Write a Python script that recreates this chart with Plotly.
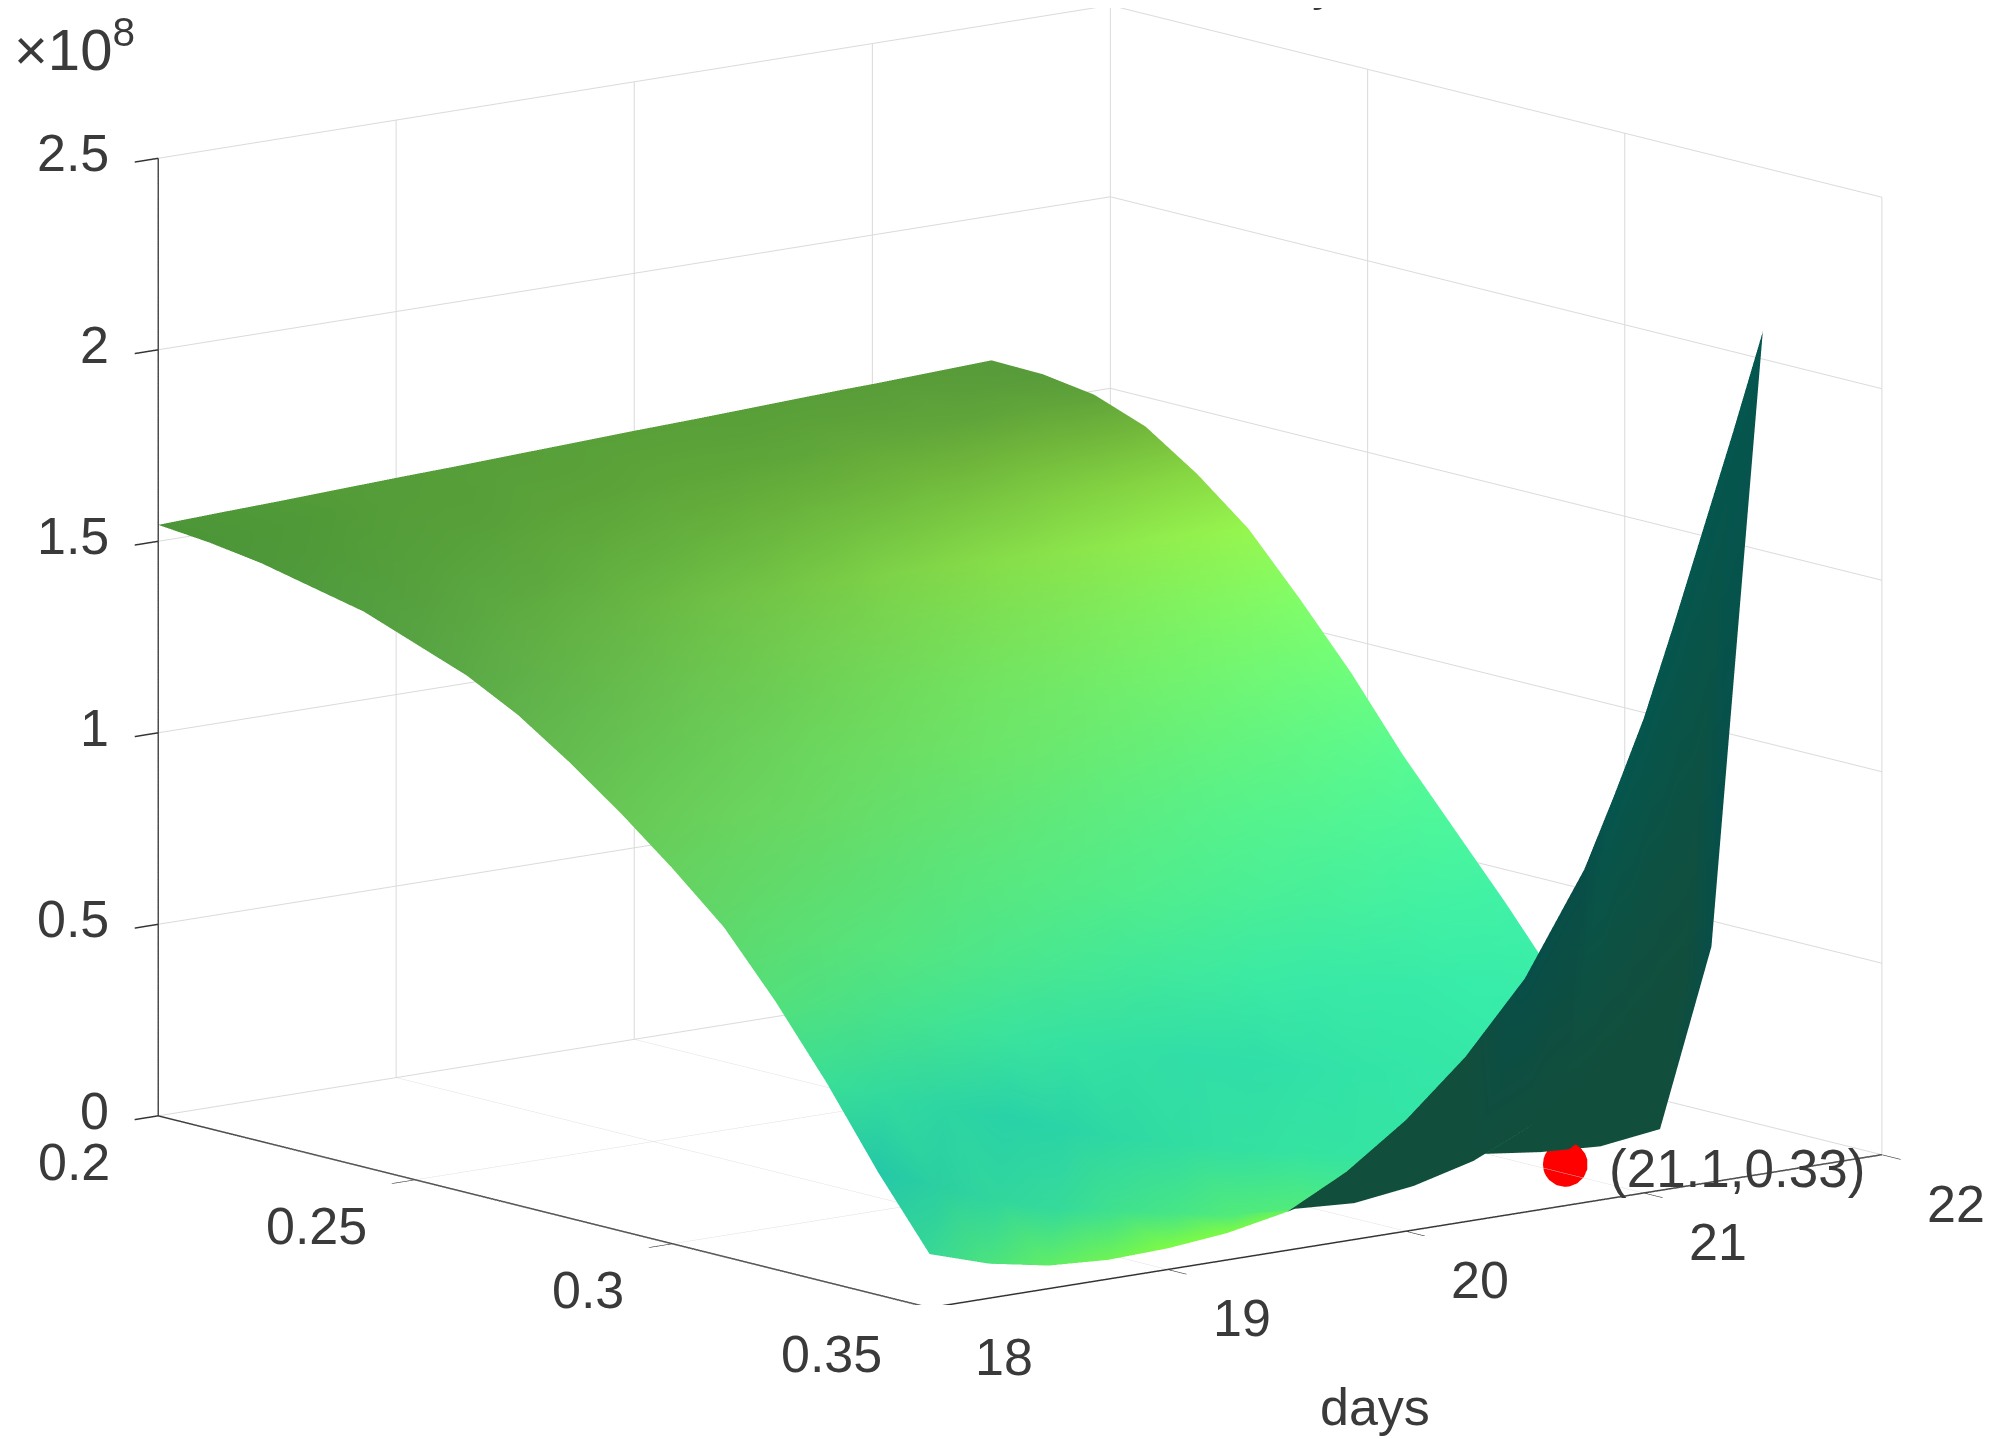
import plotly.graph_objects as go

days = [18.0,18.25,18.5,18.75,19.0,19.25,19.5,19.75,20.0,20.25,20.5,20.75,20.875,21.0,21.125,21.25,21.375,21.5]
rates = [0.20,0.21,0.22,0.23,0.24,0.25,0.26,0.27,0.28,0.29,0.30,0.31,0.32,0.33,0.34,0.35]
# values in units of 1e8, one row per rate, one column per day
z_rows = [
 [1.543,1.549,1.554,1.560,1.566,1.571,1.577,1.583,1.589,1.594,1.600,1.606,1.609,1.611,1.614,1.617,1.620,1.623],
 [1.53,1.54,1.55,1.55,1.56,1.56,1.57,1.57,1.58,1.59,1.59,1.60,1.60,1.60,1.605,1.61,1.615,1.62],
 [1.51,1.52,1.52,1.53,1.54,1.54,1.55,1.55,1.56,1.57,1.57,1.58,1.585,1.59,1.59,1.59,1.595,1.60],
 [1.48,1.49,1.49,1.50,1.50,1.51,1.51,1.52,1.52,1.53,1.53,1.54,1.54,1.54,1.545,1.55,1.55,1.55],
 [1.45,1.45,1.45,1.46,1.46,1.46,1.46,1.46,1.46,1.46,1.46,1.46,1.46,1.46,1.46,1.46,1.46,1.46],
 [1.40,1.40,1.40,1.40,1.40,1.39,1.39,1.39,1.38,1.38,1.37,1.37,1.365,1.36,1.36,1.36,1.355,1.35],
 [1.35,1.34,1.34,1.33,1.32,1.31,1.30,1.29,1.28,1.27,1.26,1.25,1.24,1.23,1.225,1.22,1.21,1.20],
 [1.28,1.27,1.26,1.24,1.23,1.21,1.20,1.18,1.16,1.15,1.13,1.11,1.10,1.09,1.075,1.06,1.05,1.04],
 [1.19,1.17,1.15,1.13,1.11,1.09,1.07,1.05,1.03,1.00,0.98,0.96,0.945,0.93,0.915,0.90,0.88,0.86],
 [1.09,1.07,1.04,1.02,0.99,0.96,0.94,0.91,0.88,0.85,0.82,0.80,0.785,0.77,0.755,0.74,0.72,0.70],
 [0.98,0.95,0.92,0.89,0.85,0.82,0.79,0.76,0.72,0.69,0.66,0.63,0.615,0.60,0.585,0.57,0.555,0.54],
 [0.86,0.81,0.77,0.73,0.69,0.65,0.61,0.57,0.54,0.50,0.47,0.44,0.43,0.42,0.405,0.39,0.38,0.37],
 [0.70,0.67,0.61,0.56,0.51,0.46,0.42,0.38,0.34,0.30,0.27,0.24,0.23,0.22,0.21,0.20,0.20,0.20],
 [0.52,0.46,0.40,0.35,0.30,0.25,0.21,0.17,0.14,0.11,0.08,0.06,0.05,0.04,0.035,0.03,0.04,0.05],
 [0.32,0.26,0.20,0.15,0.12,0.09,0.06,0.05,0.04,0.06,0.10,0.17,0.22,0.27,0.33,0.40,0.48,0.56],
 [0.14,0.09,0.06,0.05,0.055,0.07,0.10,0.18,0.29,0.43,0.61,0.87,1.05,1.24,1.47,1.71,1.95,2.20],
]

x_ticks = [18,19,20,21,22]
y_ticks = [0.2,0.25,0.3,0.35]
y_labels = ["0.2","0.25","0.3","0.35"]
z_ticks = [0,0.5e8,1e8,1.5e8,2e8,2.5e8]
z_labels = ["0","0.5","1","1.5","2","2.5"]
eye = [-1.228,-1.528,0.4]
aspect = [1.884,1.899,1.507]

# shade by height, one ramp for the near edge and one for the far edge
near_stops = [0.14,0.33,0.5,0.73,1.05,1.29,1.43,1.54]
near_cols = [(55,215,150),(35,200,168),(55,222,155),(88,225,120),(106,205,88),(96,178,75),(85,160,65),(76,150,56)]
far_stops = [0.05,0.47,0.83,1.165,1.38,1.535,1.62]
far_cols = [(50,235,170),(60,240,170),(85,250,150),(125,255,110),(155,245,75),(120,190,60),(88,155,58)]
# bright strip along the low front edge: (rate row, day column, weight)
glow = {(15,1):.3,(15,2):.6,(15,3):.8,(15,4):1,(15,5):1,(15,6):.8,(15,7):.5,
        (14,4):.15,(14,5):.25,(14,6):.4,(14,7):.4,(14,8):.3,(14,9):.2}

def ramp(v,stops,cols):
    if v <= stops[0]: return cols[0]
    for i in range(1,len(stops)):
        if v <= stops[i]:
            t=(v-stops[i-1])/(stops[i]-stops[i-1])
            return tuple(cols[i-1][c]+t*(cols[i][c]-cols[i-1][c]) for c in range(3))
    return cols[-1]

n_r,n_d=len(rates),len(days)
vx,vy,vz,light,dark=[],[],[],[],[]
for r in range(n_r):
    for d in range(n_d):
        val=z_rows[r][d]
        vx.append(days[d]); vy.append(rates[r]); vz.append(val*1e8)
        t=(days[d]-18)/3.5
        a=ramp(val,near_stops,near_cols); b=ramp(val,far_stops,far_cols)
        col=tuple(a[c]+t*(b[c]-a[c]) for c in range(3))
        w=glow.get((r,d),0)
        col=tuple(col[c]+w*((125,250,70)[c]-col[c]) for c in range(3))
        light.append("rgb(%d,%d,%d)"%col)
        dark.append("rgb(%d,%d,%d)"%((5,86,78) if val>1 else (8,78,72) if val>0.5 else (18,78,60)))

def screen_facing(a,b,c):
    # does the upper side of this triangle face the viewer?
    p=[(vx[q]/4*aspect[0],-vy[q]/0.15*aspect[1],vz[q]/2.5e8*aspect[2]) for q in (a,b,c)]
    e1=[p[1][i]-p[0][i] for i in range(3)]; e2=[p[2][i]-p[0][i] for i in range(3)]
    n=[e1[1]*e2[2]-e1[2]*e2[1],e1[2]*e2[0]-e1[0]*e2[2],e1[0]*e2[1]-e1[1]*e2[0]]
    if n[2]<0: n=[-q for q in n]
    return sum(n[i]*eye[i] for i in range(3))>0

top=([],[],[]); under=([],[],[])
for r in range(n_r-1):
    for d in range(n_d-1):
        a=r*n_d+d; b=a+1; c=a+n_d; e=c+1
        for t in ((a,b,c),(b,e,c)):
            tgt=top if screen_facing(*t) else under
            for s in range(3): tgt[s].append(t[s])

text_col="#3a3a3a"
font=dict(family="Liberation Sans",size=52,color=text_col)
grid="#dadada"
def ax(vals,rng):
    return dict(title=dict(text=""),range=rng,tickvals=vals,showticklabels=False,
                showgrid=True,gridcolor=grid,gridwidth=2,showline=True,linecolor="#333333",linewidth=3,
                ticks="outside",ticklen=30,tickcolor="#333333",tickwidth=3,
                showbackground=False,zeroline=False,showspikes=False)

notes=[]
for v in x_ticks:
    notes.append(dict(x=v,y=0.35,z=0,text=str(v),showarrow=False,font=font,xanchor="center",yanchor="middle",xshift=74,yshift=-49))
for v,t in zip(y_ticks,y_labels):
    notes.append(dict(x=18,y=v,z=0,text=t,showarrow=False,font=font,xanchor="right",yanchor="middle",xshift=-46,yshift=-46))
for v,t in zip(z_ticks,z_labels):
    notes.append(dict(x=18,y=0.2,z=v,text=t,showarrow=False,font=font,xanchor="right",yanchor="middle",xshift=-47,yshift=5))
notes.append(dict(x=20,y=0.35,z=0,text="days",showarrow=False,font=font,xanchor="center",yanchor="middle",xshift=-31,yshift=-176))
notes.append(dict(x=21.1,y=0.33,z=0,text="(21.1,0.33)",showarrow=False,font=dict(family="Liberation Sans",size=53,color=text_col),xanchor="left",yanchor="middle",xshift=42,yshift=-5))

lit=dict(ambient=1,diffuse=0,specular=0,fresnel=0,roughness=1)
fig=go.Figure()
fig.add_trace(go.Mesh3d(x=vx,y=vy,z=vz,i=top[0],j=top[1],k=top[2],vertexcolor=light,hoverinfo="skip",lighting=lit))
fig.add_trace(go.Mesh3d(x=vx,y=vy,z=vz,i=under[0],j=under[1],k=under[2],vertexcolor=dark,hoverinfo="skip",lighting=lit))
fig.add_trace(go.Scatter3d(x=[21.1],y=[0.33],z=[0],mode="markers",hoverinfo="skip",
    marker=dict(color="#ff0000",size=26,line=dict(width=0))))
fig.update_layout(width=2015,height=1439,margin=dict(l=0,r=0,t=0,b=0),paper_bgcolor="white",showlegend=False,
  scene=dict(domain=dict(x=[0.0045,1.0],y=[0.0987,1.0]),
    xaxis=ax(x_ticks,[18,22]),
    yaxis=ax(y_ticks,[0.35,0.2]),
    zaxis=ax(z_ticks,[0,2.5001e8]),
    aspectmode="manual",aspectratio=dict(x=aspect[0],y=aspect[1],z=aspect[2]),annotations=notes,
    camera=dict(projection=dict(type="orthographic"),eye=dict(x=eye[0],y=eye[1],z=eye[2]),center=dict(x=0,y=0,z=0),up=dict(x=0,y=0,z=1))),
  annotations=[dict(text="×10<sup>8</sup>",x=0.002,y=0.974,xref="paper",yref="paper",xanchor="left",yanchor="middle",showarrow=False,font=dict(family="Liberation Sans",size=58,color=text_col)),
               dict(text="y",x=0.6536,y=0.997,xref="paper",yref="paper",xanchor="center",yanchor="bottom",showarrow=False,font=font)])
fig.write_html("out.html")
